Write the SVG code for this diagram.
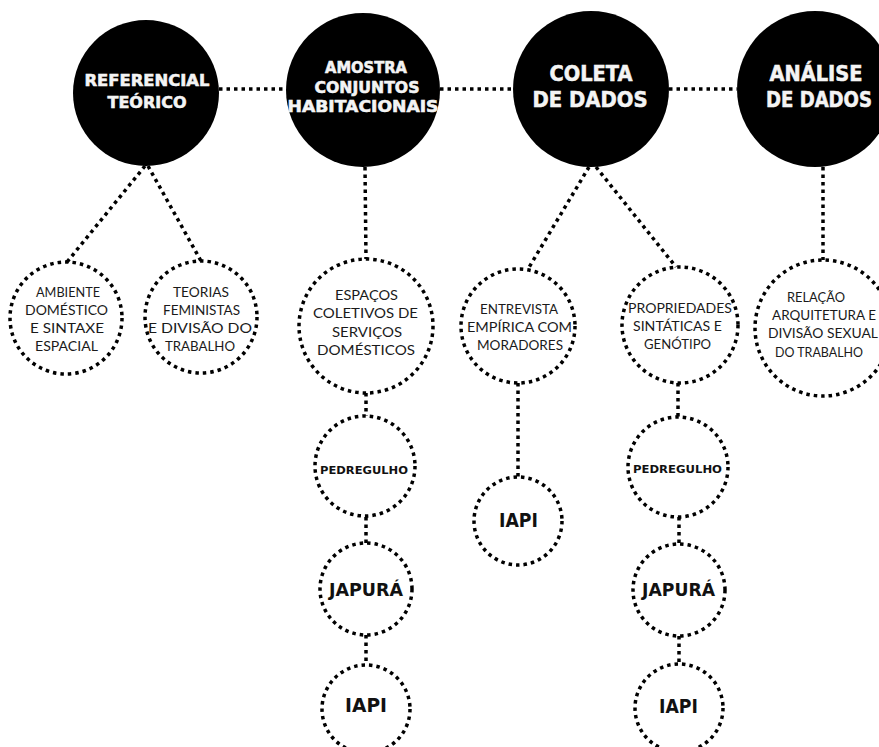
<svg xmlns="http://www.w3.org/2000/svg" width="879" height="747" viewBox="0 0 879 747">
<style>
.main{fill:#000}
.dot{fill:none;stroke:#000;stroke-width:3.5;stroke-dasharray:3.5 4}
.t{font-family:"DejaVu Sans","Liberation Sans",sans-serif;font-weight:bold;fill:#f4f4f4;stroke:#f4f4f4;stroke-width:0.6;text-anchor:middle}
.s{font-family:Lato,"Open Sans","Liberation Sans",sans-serif;font-weight:400;font-size:13px;fill:#1a1a1a;text-anchor:middle}
.b{font-family:"DejaVu Sans","Liberation Sans",sans-serif;font-weight:bold;fill:#111;text-anchor:middle}
</style>
<rect width="879" height="747" fill="#fff"/>
<g id="connectors" class="dot">
<line x1="219" y1="89" x2="286" y2="89"/>
<line x1="440" y1="89" x2="513" y2="89"/>
<line x1="669" y1="89" x2="737" y2="89"/>
<line x1="145" y1="166" x2="67" y2="262"/>
<line x1="148" y1="166" x2="201" y2="261"/>
<line x1="365" y1="167" x2="366" y2="259"/>
<line x1="589" y1="167" x2="528" y2="269"/>
<line x1="596" y1="167" x2="676" y2="267"/>
<line x1="823" y1="167" x2="823" y2="260"/>
<line x1="366" y1="393" x2="366" y2="416"/>
<line x1="366" y1="517" x2="366" y2="543"/>
<line x1="366" y1="635" x2="366" y2="665"/>
<line x1="518" y1="383" x2="518" y2="477"/>
<line x1="678" y1="383" x2="678" y2="417"/>
<line x1="679" y1="517" x2="679" y2="544"/>
<line x1="679" y1="636" x2="679" y2="664"/>
</g>
<g id="referencial">
<circle class="main" cx="146" cy="93" r="73"/>
<text class="t" font-size="16.5" x="147" y="86" textLength="125" lengthAdjust="spacingAndGlyphs">REFERENCIAL</text>
<text class="t" font-size="16.5" x="147" y="108" textLength="79" lengthAdjust="spacingAndGlyphs">TEÓRICO</text>
</g>
<g id="amostra">
<circle class="main" cx="363" cy="90" r="77"/>
<text class="t" font-size="16.5" x="366" y="73" textLength="82" lengthAdjust="spacingAndGlyphs">AMOSTRA</text>
<text class="t" font-size="16.5" x="367" y="93" textLength="105" lengthAdjust="spacingAndGlyphs">CONJUNTOS</text>
<text class="t" font-size="16.5" x="363" y="112" textLength="151" lengthAdjust="spacingAndGlyphs">HABITACIONAIS</text>
</g>
<g id="coleta">
<circle class="main" cx="591" cy="89" r="78"/>
<text class="t" font-size="22" x="591" y="81" textLength="83" lengthAdjust="spacingAndGlyphs">COLETA</text>
<text class="t" font-size="22" x="590" y="107" textLength="115" lengthAdjust="spacingAndGlyphs">DE DADOS</text>
</g>
<g id="analise">
<circle class="main" cx="815" cy="89" r="78"/>
<text class="t" font-size="22" x="816" y="81" textLength="93" lengthAdjust="spacingAndGlyphs">ANÁLISE</text>
<text class="t" font-size="22" x="819" y="107" textLength="106" lengthAdjust="spacingAndGlyphs">DE DADOS</text>
</g>
<g id="ambiente">
<circle class="dot" cx="66" cy="318" r="56"/>
<text class="s" x="68" y="297" textLength="64" lengthAdjust="spacingAndGlyphs">AMBIENTE</text>
<text class="s" x="66.5" y="315" textLength="83" lengthAdjust="spacingAndGlyphs">DOMÉSTICO</text>
<text class="s" x="67" y="333" textLength="74" lengthAdjust="spacingAndGlyphs">E SINTAXE</text>
<text class="s" x="66.5" y="351" textLength="63" lengthAdjust="spacingAndGlyphs">ESPACIAL</text>
</g>
<g id="teorias">
<circle class="dot" cx="201" cy="317" r="56"/>
<text class="s" x="201" y="297" textLength="56" lengthAdjust="spacingAndGlyphs">TEORIAS</text>
<text class="s" x="201.5" y="315" textLength="77" lengthAdjust="spacingAndGlyphs">FEMINISTAS</text>
<text class="s" x="200" y="333" textLength="104" lengthAdjust="spacingAndGlyphs">E DIVISÃO DO</text>
<text class="s" x="200" y="351" textLength="70" lengthAdjust="spacingAndGlyphs">TRABALHO</text>
</g>
<g id="espacos">
<circle class="dot" cx="366" cy="326" r="67"/>
<text class="s" x="366.5" y="300" textLength="63" lengthAdjust="spacingAndGlyphs">ESPAÇOS</text>
<text class="s" x="365.5" y="318" textLength="105" lengthAdjust="spacingAndGlyphs">COLETIVOS DE</text>
<text class="s" x="367" y="337" textLength="70" lengthAdjust="spacingAndGlyphs">SERVIÇOS</text>
<text class="s" x="366" y="355" textLength="98" lengthAdjust="spacingAndGlyphs">DOMÉSTICOS</text>
</g>
<g id="entrevista">
<circle class="dot" cx="518" cy="326" r="57"/>
<text class="s" x="519" y="314" textLength="78" lengthAdjust="spacingAndGlyphs">ENTREVISTA</text>
<text class="s" x="519.5" y="332" textLength="105" lengthAdjust="spacingAndGlyphs">EMPÍRICA COM</text>
<text class="s" x="520" y="350" textLength="86" lengthAdjust="spacingAndGlyphs">MORADORES</text>
</g>
<g id="propriedades">
<circle class="dot" cx="680" cy="325" r="58"/>
<text class="s" x="680" y="313" textLength="104" lengthAdjust="spacingAndGlyphs">PROPRIEDADES</text>
<text class="s" x="677.5" y="331" textLength="89" lengthAdjust="spacingAndGlyphs">SINTÁTICAS E</text>
<text class="s" x="677.5" y="349" textLength="67" lengthAdjust="spacingAndGlyphs">GENÓTIPO</text>
</g>
<g id="relacao">
<circle class="dot" cx="823" cy="328" r="68"/>
<text class="s" x="816" y="302" textLength="58" lengthAdjust="spacingAndGlyphs">RELAÇÃO</text>
<text class="s" x="824" y="320" textLength="104" lengthAdjust="spacingAndGlyphs">ARQUITETURA E</text>
<text class="s" x="823" y="338" textLength="110" lengthAdjust="spacingAndGlyphs">DIVISÃO SEXUAL</text>
<text class="s" x="819" y="357" textLength="88" lengthAdjust="spacingAndGlyphs">DO TRABALHO</text>
</g>
<g id="pedregulho1">
<circle class="dot" cx="365" cy="466" r="50"/>
<text class="b" font-size="11" x="364" y="474" textLength="88" lengthAdjust="spacingAndGlyphs">PEDREGULHO</text>
</g>
<g id="japura1">
<circle class="dot" cx="366" cy="589" r="46"/>
<text class="b" font-size="17" x="366" y="596" textLength="74" lengthAdjust="spacingAndGlyphs">JAPURÁ</text>
</g>
<g id="iapi1">
<circle class="dot" cx="366" cy="709" r="44"/>
<text class="b" font-size="19" x="366" y="712" textLength="42" lengthAdjust="spacingAndGlyphs">IAPI</text>
</g>
<g id="iapi2">
<circle class="dot" cx="518" cy="521" r="44"/>
<text class="b" font-size="19" x="518.5" y="527" textLength="39" lengthAdjust="spacingAndGlyphs">IAPI</text>
</g>
<g id="pedregulho2">
<circle class="dot" cx="678" cy="467" r="50"/>
<text class="b" font-size="11" x="677.5" y="473" textLength="89" lengthAdjust="spacingAndGlyphs">PEDREGULHO</text>
</g>
<g id="japura2">
<circle class="dot" cx="679" cy="590" r="46"/>
<text class="b" font-size="17" x="678.5" y="596" textLength="73" lengthAdjust="spacingAndGlyphs">JAPURÁ</text>
</g>
<g id="iapi3">
<circle class="dot" cx="679" cy="708" r="44"/>
<text class="b" font-size="19" x="678.5" y="713" textLength="39" lengthAdjust="spacingAndGlyphs">IAPI</text>
</g>
</svg>
